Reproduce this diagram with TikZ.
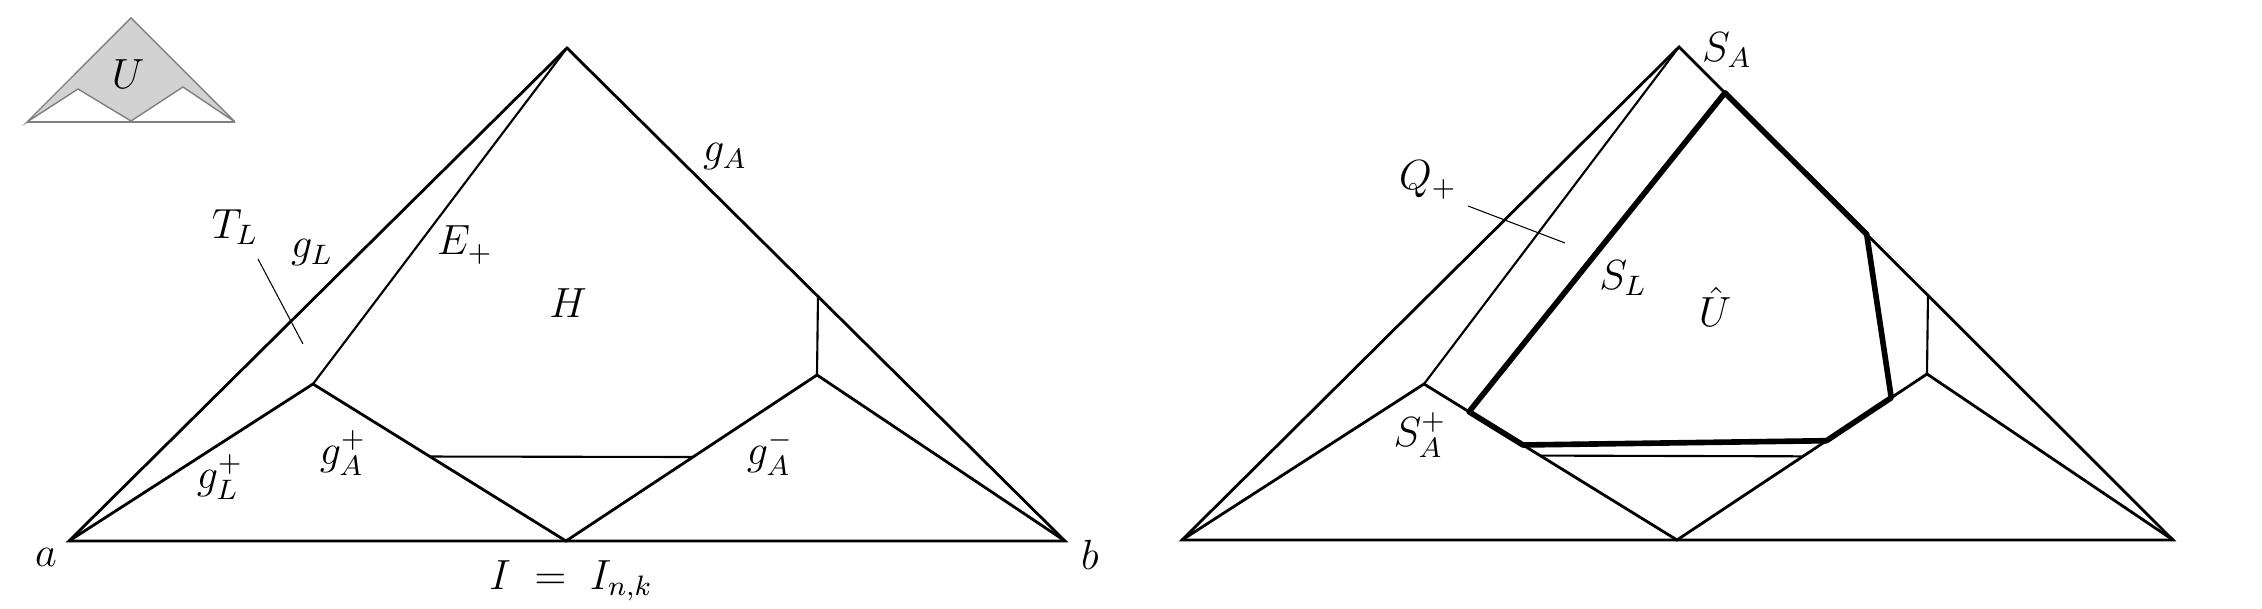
\documentclass[tikz,border=0pt]{standalone}
\usepackage{amsmath}
\usepackage{tikz}
\usetikzlibrary{calc}

\begin{document}
\begin{tikzpicture}[
      thick,
      lbl/.style = {font=\large,inner sep=1pt},
      faint/.style = {semithick},
      pointer/.style = {line width=0.3pt},
      bold/.style = {line width=1.6pt,line join=round},
      inset/.style = {draw=gray,fill=gray!35,line width=0.4pt}
    ]
      \useasboundingbox (0,0) rectangle (22.62,6.09);

      % small picture of U
      \coordinate (ua) at (0.27,4.87);
      \coordinate (utop) at (1.31,5.91);
      \coordinate (ub) at (2.35,4.87);
      \coordinate (urp) at (1.83,5.22);
      \coordinate (umid) at (1.31,4.88);
      \coordinate (ulp) at (0.78,5.20);
      \draw[inset] (ua) -- (utop) -- (ub) -- (urp) -- (umid) -- (ulp) -- cycle;
      \draw[draw=gray,line width=0.4pt] (ua) -- (ub);
      \node (labU)[lbl] at (1.28,5.35) {$U$};

      % left triangle
      \coordinate (a) at (0.69,0.68);
      \coordinate (b) at (10.65,0.68);
      \coordinate (top) at (5.67,5.61);
      \coordinate (mid) at (5.66,0.68);
      \coordinate (lp) at (3.13,2.25);
      \coordinate (rp) at (8.17,2.34);
      \coordinate (rv) at ($(top)!0.504!(b)$);
      \coordinate (hl) at ($(lp)!0.462!(mid)$);
      \coordinate (hr) at ($(mid)!0.506!(rp)$);
      \coordinate (tlA) at (2.58,3.50);
      \coordinate (tlB) at (3.03,2.65);
      \draw (a) -- (top) -- (b) -- cycle;
      \draw (a) -- (lp) -- (mid) -- (rp) -- (b);
      \draw[faint] (lp) -- (top);
      \draw[faint] (rp) -- (rv);
      \draw[faint] (hl) -- (hr);
      \draw[pointer] (tlA) -- (tlB);
      \node (labTL)[lbl] at (2.35,3.82) {$T_L$};
      \node (labgL)[lbl] at (3.12,3.56) {$g_L$};
      \node (labE)[lbl] at (4.65,3.64) {$E_+$};
      \node (labH)[lbl] at (5.68,3.06) {$H$};
      \node (labgA)[lbl] at (7.25,4.52) {$g_A$};
      \node (labgAp)[lbl] at (3.43,1.56) {$g_A^+$};
      \node (labgLp)[lbl] at (2.20,1.32) {$g_L^+$};
      \node (labgAm)[lbl] at (7.70,1.56) {$g_A^-$};
      \node (laba)[lbl] at (0.46,0.52) {$a$};
      \node (labb)[lbl] at (10.90,0.54) {$b$};
      \node (labI)[lbl] at (5.71,0.28) {$I\;=\;I_{n,k}$};

      % right triangle
      \coordinate (a2) at (11.82,0.69);
      \coordinate (b2) at (21.73,0.69);
      \coordinate (top2) at (16.79,5.62);
      \coordinate (mid2) at (16.77,0.69);
      \coordinate (lp2) at (14.24,2.25);
      \coordinate (rp2) at (19.27,2.35);
      \coordinate (rv2) at ($(top2)!0.504!(b2)$);
      \coordinate (hl2) at ($(lp2)!0.459!(mid2)$);
      \coordinate (hr2) at ($(mid2)!0.504!(rp2)$);
      \coordinate (qA) at (14.68,4.03);
      \coordinate (qB) at (15.65,3.66);
      \coordinate (p1) at ($(top2)!0.093!(b2)$);
      \coordinate (p2) at ($(top2)!0.380!(b2)$);
      \coordinate (p3) at ($(mid2)!0.857!(rp2)$);
      \coordinate (p4) at ($(mid2)!0.598!(rp2)$);
      \coordinate (p5) at ($(lp2)!0.391!(mid2)$);
      \coordinate (p6) at ($(lp2)!0.178!(mid2)$);
      \draw (a2) -- (top2) -- (b2) -- cycle;
      \draw (a2) -- (lp2) -- (mid2) -- (rp2) -- (b2);
      \draw[faint] (lp2) -- (top2);
      \draw[faint] (rp2) -- (rv2);
      \draw[faint] (hl2) -- (hr2);
      \draw[pointer] (qA) -- (qB);
      \draw[bold] (p1) -- (p2) -- (p3) -- (p4) -- (p5) -- (p6) -- cycle;
      \node (labSA)[lbl] at (17.27,5.59) {$S_A$};
      \node (labQ)[lbl] at (14.28,4.29) {$Q_+$};
      \node (labSL)[lbl] at (16.23,3.31) {$S_L$};
      \node (labUh)[lbl] at (17.15,3.02) {$\hat{U}$};
      \node (labSAp)[lbl] at (14.20,1.74) {$S_A^+$};
    \end{tikzpicture}
\end{document}
